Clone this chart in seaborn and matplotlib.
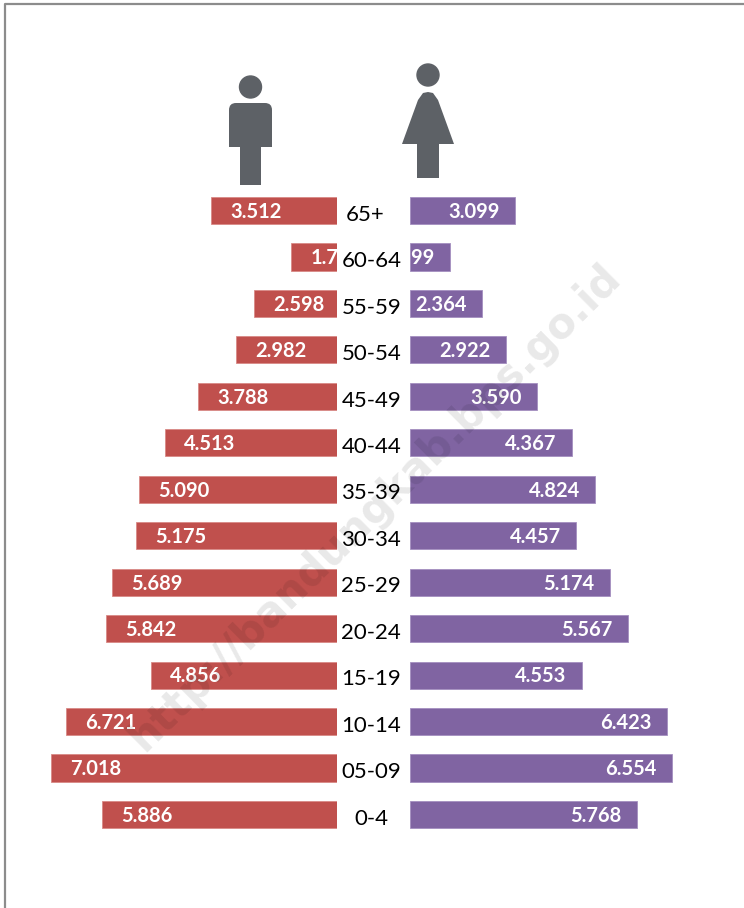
import matplotlib.pyplot as plt
from matplotlib.patches import Circle, FancyBboxPatch, Polygon, Rectangle
import seaborn as sns

sns.set_style('white')
plt.rcParams['font.family'] = ['Lato', 'DejaVu Sans']

age_groups = ['65+', '60-64', '55-59', '50-54', '45-49', '40-44', '35-39',
              '30-34', '25-29', '20-24', '15-19', '10-14', '05-09', '0-4']
male_labels = ['3.512', '1.749', '2.598', '2.982', '3.788', '4.513', '5.090',
               '5.175', '5.689', '5.842', '4.856', '6.721', '7.018', '5.886']
female_labels = ['3.099', '1.599', '2.364', '2.922', '3.590', '4.367', '4.824',
                 '4.457', '5.174', '5.567', '4.553', '6.423', '6.554', '5.768']
# bar lengths as drawn, they do not follow the printed numbers exactly
male_bars = [3.15, 1.15, 2.08, 2.53, 3.48, 4.30, 4.95,
             5.03, 5.63, 5.78, 4.65, 6.78, 7.15, 5.88]
female_bars = [2.63, 1.00, 1.80, 2.40, 3.18, 4.05, 4.63,
               4.15, 5.00, 5.45, 4.30, 6.43, 6.55, 5.68]

WIDTH, HEIGHT = 744, 908
TOP, BOTTOM = 187.3, 837.7
MALE_END, FEMALE_START = 337, 410
ICON_COLOR = '#5d6166'


def px_axes(fig, left, right, top, bottom, zorder):
    '''
    Adds an axes placed with pixel edges, measured from the top left
    '''
    ax = fig.add_axes([left / WIDTH, 1 - bottom / HEIGHT,
                       (right - left) / WIDTH, (bottom - top) / HEIGHT],
                      zorder=zorder)
    ax.axis('off')
    return ax


def draw_side(ax, values, labels, color, edge, padding):
    '''
    Draws one half of the pyramid with the white numbers inside the bars
    '''
    sns.barplot(x=values, y=age_groups, orient='y', color=color, saturation=1,
                width=0.585, edgecolor=edge, linewidth=0.6, ax=ax)
    ax.set_ylim(13.5, -0.5)
    texts = ax.bar_label(ax.containers[0], labels=labels, padding=padding,
                         color='white', fontweight='bold', fontsize=14.5)
    for text in texts:
        text.set_ha('center')
        text.xyann = (text.xyann[0], -1)
    ax.axis('off')


def draw_icons(ax):
    '''
    Draws the page frame, the two person icons and the watermark
    '''
    ax.plot([5, 5, WIDTH], [HEIGHT, 4, 4], color='#8c8c8c', lw=1.6)

    # man
    ax.add_patch(Circle((250.5, 87), 11, color=ICON_COLOR))
    ax.add_patch(FancyBboxPatch((229, 103), 43, 44,
                                boxstyle='round,pad=0,rounding_size=7',
                                mutation_scale=1, color=ICON_COLOR, lw=0))
    ax.add_patch(Rectangle((229, 125), 43, 22, color=ICON_COLOR, lw=0))
    ax.add_patch(Rectangle((240, 147), 21, 38, color=ICON_COLOR, lw=0))

    # woman
    ax.add_patch(Circle((428, 75), 11, color=ICON_COLOR))
    ax.add_patch(Polygon([(402, 144), (418, 100), (423, 93), (428, 92),
                          (433, 93), (438, 100), (454, 144)],
                         color=ICON_COLOR, lw=0))
    ax.add_patch(Rectangle((417, 144), 22, 34, color=ICON_COLOR, lw=0))


def main():
    fig = plt.figure(figsize=(WIDTH / 100, HEIGHT / 100), dpi=100)

    ax_male = px_axes(fig, 0, MALE_END, TOP, BOTTOM, 1)
    ax_male.set_xlim(MALE_END / 40, 0)
    draw_side(ax_male, male_bars, male_labels, '#c0504d', '#d98a87', -32.4)
    ax_male.set_xlim(MALE_END / 40, 0)

    ax_female = px_axes(fig, FEMALE_START, WIDTH, TOP, BOTTOM, 1)
    ax_female.set_xlim(0, (WIDTH - FEMALE_START) / 40)
    draw_side(ax_female, female_bars, female_labels, '#8064a2', '#a48fc0',
              -29.5)
    ax_female.set_xlim(0, (WIDTH - FEMALE_START) / 40)

    # white strip in the middle hides the numbers that run under it
    ax_mid = px_axes(fig, MALE_END, FEMALE_START, TOP, BOTTOM, 2)
    ax_mid.axis('on')
    ax_mid.set_xticks([])
    ax_mid.set_yticks([])
    sns.despine(ax=ax_mid, left=True, bottom=True)
    ax_mid.set_facecolor('white')
    ax_mid.set_xlim(0, 1)
    ax_mid.set_ylim(13.5, -0.5)
    for i, age in enumerate(age_groups):
        x_pos = 0.38 if age == '65+' else 0.47
        ax_mid.annotate(age, (x_pos, i), xytext=(0, -3),
                        textcoords='offset points', ha='center', va='center',
                        fontsize=16, color='black')

    ax_top = px_axes(fig, 0, WIDTH, 0, HEIGHT, 3)
    ax_top.set_xlim(0, WIDTH)
    ax_top.set_ylim(HEIGHT, 0)
    draw_icons(ax_top)
    ax_top.text(375, 507, 'http://bandungkab.bps.go.id', rotation=44.7,
                rotation_mode='anchor', ha='center', va='center',
                fontsize=30, fontfamily='DejaVu Sans', fontweight='bold',
                color='black', alpha=0.09)

    fig.savefig('out.png', dpi=100)


if __name__ == '__main__':
    main()
